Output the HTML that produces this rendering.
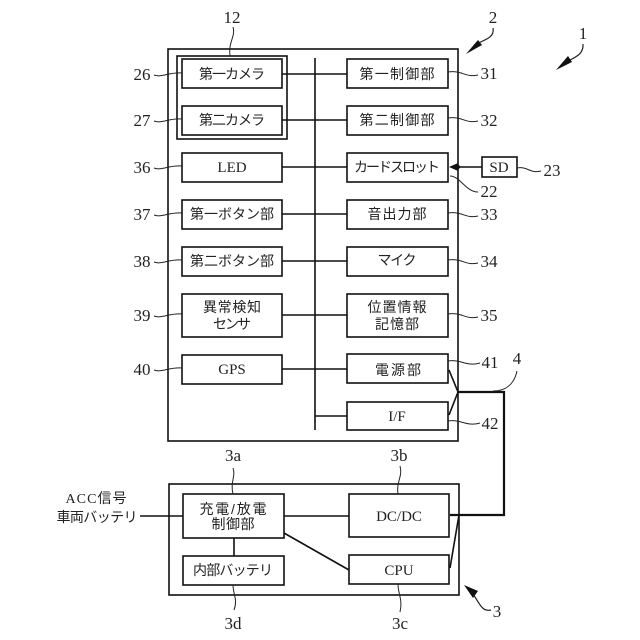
<!DOCTYPE html>
<html><head><meta charset="utf-8"><style>
html,body{margin:0;padding:0;background:#fff}
svg{display:block}
text{font-family:"Liberation Serif","Noto Sans CJK JP",serif;fill:#222;text-anchor:middle}
.j{font-family:"Liberation Sans","Noto Sans CJK JP",sans-serif;font-size:14px;font-weight:400}
.n{font-size:17px}
.l{font-size:15px}
.b{fill:#fff;stroke:#111;stroke-width:1.6}
.c{fill:none;stroke:#111;stroke-width:1.6}
.t{fill:none;stroke:#222;stroke-width:1}
</style></head><body>
<svg width="640" height="640" viewBox="0 0 640 640" xmlns="http://www.w3.org/2000/svg">
<rect x="168" y="49" width="290" height="392" class="b"/>
<rect x="177" y="56" width="110" height="83" class="b"/>
<path class="c" d="M315 58V430M282 74H347M282 120H347M282 167H347M282 214H347M282 261H347M282 315H347M282 369H347M315 416H347"/>
<rect x="182" y="59" width="100" height="29" class="b"/>
<rect x="182" y="106" width="100" height="29" class="b"/>
<rect x="182" y="153" width="100" height="29" class="b"/>
<rect x="182" y="200" width="100" height="29" class="b"/>
<rect x="182" y="247" width="100" height="29" class="b"/>
<rect x="182" y="294" width="100" height="43" class="b"/>
<rect x="182" y="355" width="100" height="29" class="b"/>
<rect x="347" y="59" width="101" height="29" class="b"/>
<rect x="347" y="106" width="101" height="29" class="b"/>
<rect x="347" y="153" width="101" height="29" class="b"/>
<rect x="347" y="200" width="101" height="29" class="b"/>
<rect x="347" y="247" width="101" height="29" class="b"/>
<rect x="347" y="294" width="101" height="43" class="b"/>
<rect x="347" y="354" width="101" height="29" class="b"/>
<rect x="347" y="402" width="101" height="28" class="b"/>
<rect x="482" y="157" width="35" height="20" class="b"/>
<path class="c" d="M482 167H451"/>
<path d="M449 167L458 163V171Z" fill="#111"/>
<circle cx="458" cy="167" r="2" fill="#111"/>
<path class="c" d="M449 370L458 392L449 415"/>
<rect x="169" y="484" width="290" height="111" class="b"/>
<path class="c" d="M140 516H183M284 516H349M234 538V556M284 533L349 570"/>
<rect x="183" y="494" width="101" height="44" class="b"/>
<rect x="183" y="556" width="101" height="29" class="b"/>
<rect x="349" y="494" width="100" height="43" class="b"/>
<rect x="349" y="555" width="100" height="29" class="b"/>
<path class="c" style="stroke-width:2.200" d="M458 392H504V515H450"/>
<path class="c" d="M459 515L450 568"/>

<g class="t">
<path d="M154 75C162 78 168 72 182 73"/>
<path d="M154 121C162 124 168 118 182 119"/>
<path d="M154 168C162 171 168 165 182 166"/>
<path d="M154 215C162 218 168 212 182 213"/>
<path d="M154 262C162 265 168 259 182 260"/>
<path d="M154 316C162 319 168 313 182 314"/>
<path d="M154 370C162 373 168 367 182 368"/>
<path d="M448 72C462 70 466 78 478 75"/>
<path d="M448 118C462 116 466 124 478 121"/>
<path d="M450 176C460 176 466 192 478 192"/>
<path d="M448 213C462 211 466 219 478 216"/>
<path d="M448 260C462 258 466 266 478 263"/>
<path d="M448 314C462 312 466 320 478 317"/>
<path d="M448 361C462 359 466 367 480 363"/>
<path d="M448 421C462 419 466 427 480 423"/>
<path d="M517 168C528 166 530 174 541 171"/>
<path d="M233 27C236 36 228 42 230 56"/>
<path d="M233 468C236 476 230 482 233 494"/>
<path d="M400 466C403 476 396 482 398 494"/>
<path d="M398 584C398 594 403 600 400 612"/>
<path d="M233 585C233 594 238 600 234 610"/>
<path d="M493 391C505 391 514 385 517 371"/>
<path style="stroke-width:1.200" d="M493 28C495 38 484 40 474 45"/>
<path style="stroke-width:1.200" d="M583 44C584 56 572 58 565 63"/>
<path style="stroke-width:1.200" d="M491 610C482 612 480 604 473 594"/>
</g>
<path d="M466 54L478 40L482 45Z" fill="#111"/>
<path d="M556 70L568 56L572 62Z" fill="#111"/>
<path d="M464 585L478 591L473 598Z" fill="#111"/>

<text x="232" y="79" class="j" textLength="66">第一カメラ</text>
<text x="232" y="125" class="j" textLength="66">第二カメラ</text>
<text x="232" y="219" class="j" textLength="84">第一ボタン部</text>
<text x="232" y="266" class="j" textLength="84">第二ボタン部</text>
<text x="232" y="312" class="j" textLength="58">異常検知</text>
<text x="232" y="329" class="j" textLength="38">センサ</text>
<text x="397" y="79" class="j" textLength="75">第一制御部</text>
<text x="397" y="125" class="j" textLength="75">第二制御部</text>
<text x="397" y="172" class="j" textLength="86">カードスロット</text>
<text x="397" y="219" class="j" textLength="59">音出力部</text>
<text x="397" y="265" class="j" textLength="39">マイク</text>
<text x="397" y="312" class="j" textLength="59">位置情報</text>
<text x="397" y="329" class="j" textLength="44">記憶部</text>
<text x="398" y="375" class="j" textLength="46">電源部</text>
<text x="233" y="514" class="j" textLength="67">充電/放電</text>
<text x="233" y="529" class="j" textLength="43">制御部</text>
<text x="233" y="575" class="j" textLength="80">内部バッテリ</text>
<text x="96" y="503" style="font-size:14px" textLength="61">ACC信号</text>
<text x="97" y="522" class="j" textLength="81">車両バッテリ</text>
<text x="232" y="172" class="l">LED</text>
<text x="232" y="374" class="l">GPS</text>
<text x="397" y="421" class="l">I/F</text>
<text x="499" y="172" class="l">SD</text>
<text x="399" y="521" class="l">DC/DC</text>
<text x="399" y="575" class="l">CPU</text>

<text x="142" y="80" class="n">26</text>
<text x="142" y="126" class="n">27</text>
<text x="142" y="173" class="n">36</text>
<text x="142" y="220" class="n">37</text>
<text x="142" y="267" class="n">38</text>
<text x="142" y="321" class="n">39</text>
<text x="142" y="375" class="n">40</text>
<text x="489" y="79" class="n">31</text>
<text x="489" y="126" class="n">32</text>
<text x="489" y="197" class="n">22</text>
<text x="552" y="176" class="n">23</text>
<text x="489" y="220" class="n">33</text>
<text x="489" y="267" class="n">34</text>
<text x="489" y="321" class="n">35</text>
<text x="490" y="368" class="n">41</text>
<text x="490" y="429" class="n">42</text>
<text x="517" y="364" class="n">4</text>
<text x="232" y="23" class="n">12</text>
<text x="493" y="23" class="n">2</text>
<text x="583" y="39" class="n">1</text>
<text x="497" y="617" class="n">3</text>
<text x="233" y="461" class="n">3a</text>
<text x="399" y="461" class="n">3b</text>
<text x="400" y="629" class="n">3c</text>
<text x="233" y="629" class="n">3d</text>
</svg>
</body></html>
